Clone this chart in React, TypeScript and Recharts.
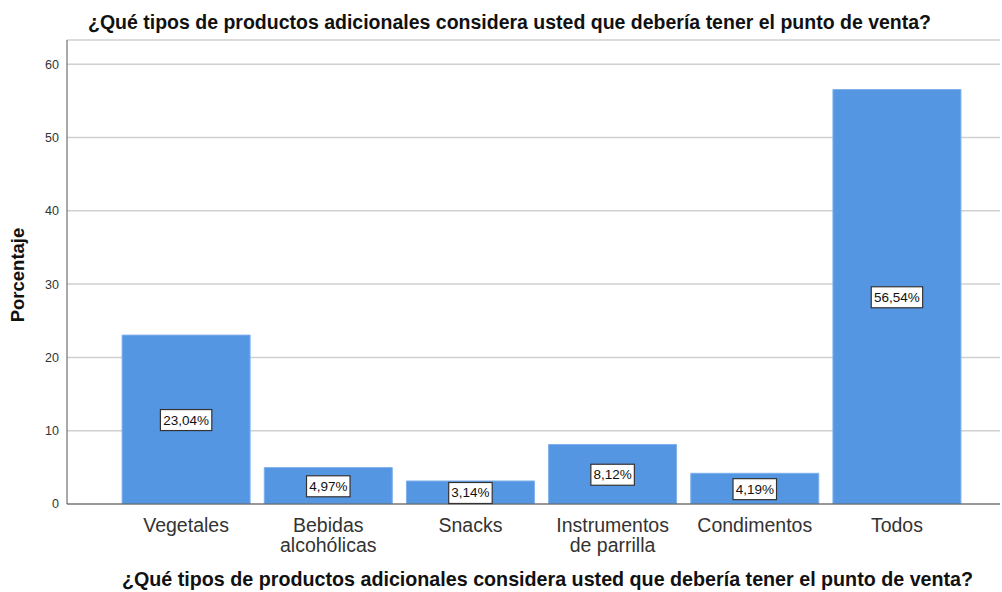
import { Bar, BarChart, CartesianGrid, LabelList, XAxis, YAxis } from "recharts";

const categories = ["Vegetales", "Bebidas\nalcohólicas", "Snacks", "Instrumentos\nde parrilla", "Condimentos", "Todos"];
const percentages = [23.04, 4.97, 3.14, 8.12, 4.19, 56.54];
const yTicks = [0, 10, 20, 30, 40, 50, 60];

const title = "¿Qué tipos de productos adicionales considera usted que debería tener el punto de venta?";

const data = categories.map((name, i) => ({ name, pct: percentages[i] }));

const FONT = "Arial, 'Liberation Sans', sans-serif";

function CategoryTick({ x, y, payload }: { x?: number; y?: number; payload?: { value: string } }) {
  const lines = String(payload?.value ?? "").split("\n");
  return (
    <text x={x} y={(y ?? 0) + 20} textAnchor="middle" fill="#333" fontSize={19.5} fontFamily={FONT}>
      {lines.map((line, i) => (
        <tspan key={i} x={x} dy={i === 0 ? 0 : 20}>
          {line}
        </tspan>
      ))}
    </text>
  );
}

function PctLabel(props: any) {
  const { x, y, width, height, value } = props;
  const cx = Number(x) + Number(width) / 2;
  const cy = Number(y) + Number(height) / 2;
  const txt = Number(value).toFixed(2).replace(".", ",") + "%";
  const w = txt.length * 7.9 + 4;
  return (
    <g>
      <rect x={cx - w / 2} y={cy - 10} width={w} height={21} fill="#fff" stroke="#333" strokeWidth={1.2} />
      <text x={cx} y={cy + 5} textAnchor="middle" fontSize={13.5} fill="#111" fontFamily={FONT}>
        {txt}
      </text>
    </g>
  );
}

export default function App() {
  return (
    <div style={{ position: "absolute", left: 0, top: 0, width: 1002, height: 592, background: "#fff", fontFamily: FONT }}>
      <div
        style={{
          position: "absolute",
          left: 88,
          top: 11,
          fontSize: 20,
          fontWeight: 700,
          color: "#111",
          whiteSpace: "nowrap",
          transform: "scaleX(0.975)",
          transformOrigin: "left top",
        }}
      >
        {title}
      </div>
      <div
        style={{
          position: "absolute",
          left: 18,
          top: 275,
          fontSize: 18.5,
          fontWeight: 700,
          color: "#111",
          whiteSpace: "nowrap",
          transform: "translate(-50%, -50%) rotate(-90deg)",
        }}
      >
        Porcentaje
      </div>
      <div
        style={{
          position: "absolute",
          left: 122,
          top: 568,
          fontSize: 19.7,
          fontWeight: 700,
          color: "#111",
          whiteSpace: "nowrap",
        }}
      >
        {title}
      </div>
      <BarChart
        width={1002}
        height={592}
        data={data}
        margin={{ top: 40, right: 2, bottom: 0, left: 0 }}
        barCategoryGap="5%"
      >
        <CartesianGrid horizontal vertical={false} stroke="#d0d0d0" strokeWidth={1.5} />
        <XAxis
          dataKey="name"
          interval={0}
          height={88}
          padding={{ left: 48, right: 32 }}
          tickLine={false}
          axisLine={{ stroke: "#555" }}
          tick={<CategoryTick />}
        />
        <YAxis
          width={67}
          domain={[0, 63.3]}
          ticks={yTicks}
          allowDataOverflow
          tickLine={false}
          tickSize={0}
          axisLine={{ stroke: "#555" }}
          tick={{ fill: "#333", fontSize: 12.5, fontFamily: FONT, dx: -6 }}
        />
        <Bar dataKey="pct" fill="#5596e3" stroke="#7eb0ec" strokeWidth={1} isAnimationActive={false}>
          <LabelList dataKey="pct" content={<PctLabel />} />
        </Bar>
      </BarChart>
    </div>
  );
}
